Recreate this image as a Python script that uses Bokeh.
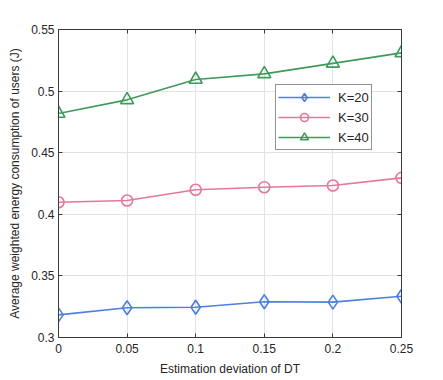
from bokeh.plotting import figure
from bokeh.models import (ColumnDataSource, Range1d, FixedTicker, LinearAxis, Legend, LegendItem)
from bokeh.embed import file_html
from bokeh.resources import INLINE

# ---- data ----
deviation = [0, 0.05, 0.1, 0.15, 0.2, 0.25]
x_tick_labels = ["0", "0.05", "0.1", "0.15", "0.2", "0.25"]
y_ticks = [0.3, 0.35, 0.4, 0.45, 0.5, 0.55]
y_tick_labels = ["0.3", "0.35", "0.4", "0.45", "0.5", "0.55"]
k20 = [0.3184, 0.3241, 0.3246, 0.3290, 0.3287, 0.3335]
k30 = [0.4098, 0.4112, 0.4199, 0.4220, 0.4234, 0.4296]
k40 = [0.4818, 0.4929, 0.5094, 0.5140, 0.5225, 0.5310]
series_names = ["K=20", "K=30", "K=40"]

FONT = "Liberation Sans"
AX = "#3a3a3a"

p = figure(width=443, height=380, output_backend="svg", toolbar_location=None,
           x_range=Range1d(0, 0.25), y_range=Range1d(0.3, 0.55),
           frame_width=343, frame_height=308,
           min_border_left=58, min_border_right=42, min_border_top=29, min_border_bottom=43)
p.outline_line_color = None
p.background_fill_color = "white"
p.border_fill_color = "white"

xt = FixedTicker(ticks=deviation)
yt = FixedTicker(ticks=y_ticks)
p.xaxis.ticker = xt
p.yaxis.ticker = yt
p.xaxis.major_label_overrides = {v: s for v, s in zip(deviation, x_tick_labels)}
p.yaxis.major_label_overrides = {v: s for v, s in zip(y_ticks, y_tick_labels)}
p.xaxis.axis_label = "Estimation deviation of DT"
p.yaxis.axis_label = "Average weighted energy consumption of users (J)"

for ax in [p.xaxis[0], p.yaxis[0]]:
    ax.axis_line_color = AX
    ax.axis_line_width = 1
    ax.major_tick_line_color = AX
    ax.major_tick_in = 4
    ax.major_tick_out = 0
    ax.minor_tick_line_color = None
    ax.major_label_text_font = FONT
    ax.major_label_text_font_size = "12px"
    ax.major_label_text_color = "#262626"
    ax.axis_label_text_font = FONT
    ax.axis_label_text_font_size = "12px"
    ax.axis_label_text_font_style = "normal"
    ax.axis_label_text_color = "#262626"
p.xaxis.major_label_standoff = 6
p.yaxis.major_label_standoff = 4
p.xaxis.axis_label_standoff = 6
p.yaxis.axis_label_standoff = 6

top = LinearAxis(ticker=xt, axis_line_color=AX,
                 major_tick_line_color=AX, major_tick_in=4, major_tick_out=0,
                 minor_tick_line_color=None, major_label_text_color=None,
                 major_label_overrides={v: "" for v in deviation})
right = LinearAxis(ticker=yt, axis_line_color=AX,
                   major_tick_line_color=AX, major_tick_in=4, major_tick_out=0,
                   minor_tick_line_color=None, major_label_text_color=None,
                   major_label_overrides={v: "" for v in y_ticks})
p.add_layout(top, "above")
p.add_layout(right, "right")

p.xgrid.grid_line_color = "#e3e3e3"
p.ygrid.grid_line_color = "#e3e3e3"
p.xgrid.ticker = xt
p.ygrid.ticker = yt

colors = ["#4d80dc", "#e8769a", "#3f9a5c"]
markers = ["diamond", "circle", "triangle"]
sizes = [14, 11, 13]
items = []
for vals, name, c, m, s in zip([k20, k30, k40], series_names, colors, markers, sizes):
    src = ColumnDataSource(dict(x=deviation, y=vals))
    l = p.line("x", "y", source=src, line_color=c, line_width=1.6)
    sc = p.scatter("x", "y", source=src, marker=m, size=s, line_color=c,
                   line_width=1.6, fill_color="white", fill_alpha=0)
    items.append(LegendItem(label=name, renderers=[l, sc]))

leg = Legend(items=items, location=(217, 187), border_line_color="#262626",
             border_line_width=1, label_text_font=FONT, label_text_font_size="13px",
             label_text_color="#262626", glyph_width=52, glyph_height=20,
             spacing=0, padding=2, margin=0, label_standoff=8,
             background_fill_alpha=1, background_fill_color="white")
p.add_layout(leg, "center")

open("out.html", "w").write(file_html(p, INLINE))
